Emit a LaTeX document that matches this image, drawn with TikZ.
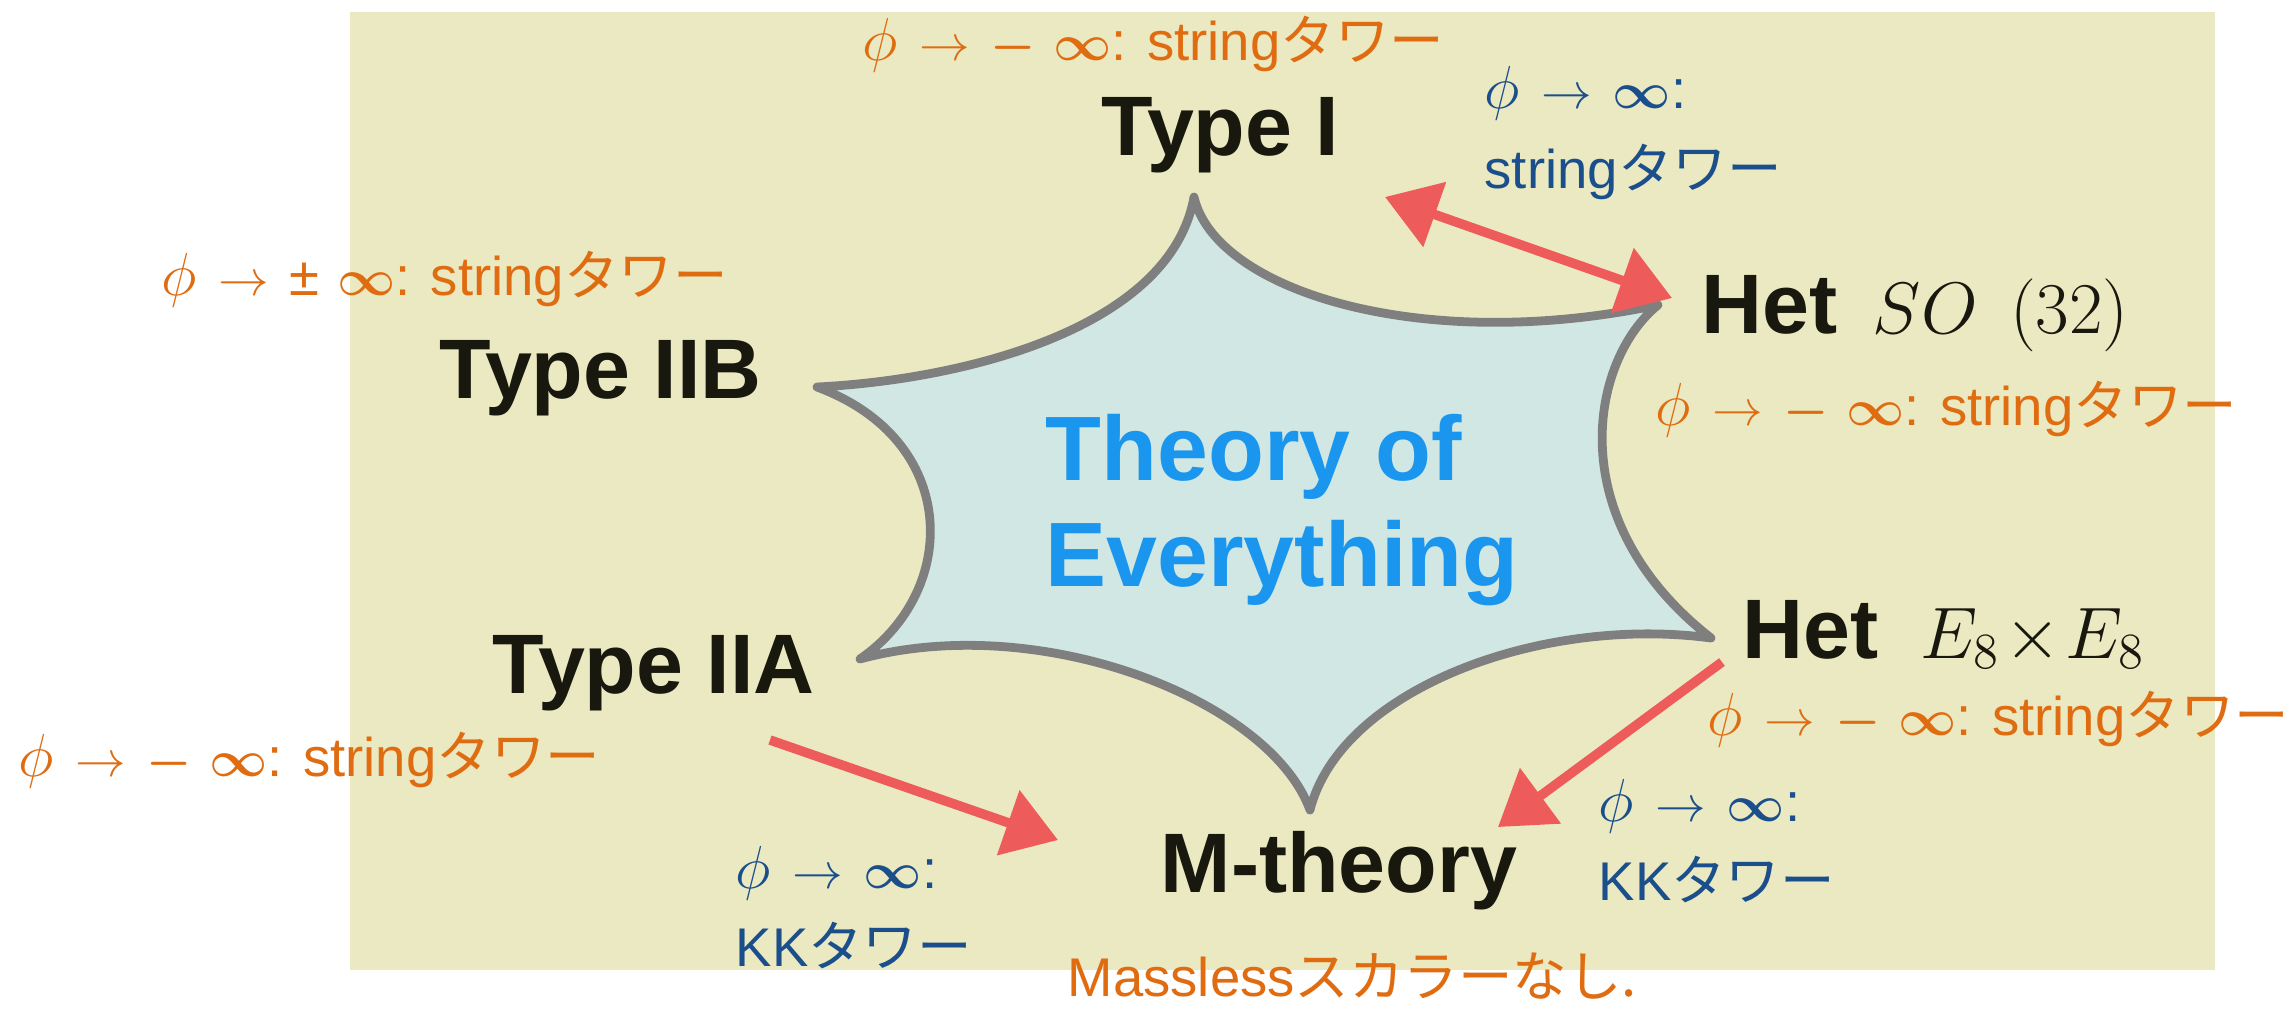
\documentclass[tikz,border=0pt]{standalone}
\usepackage[no-math]{fontspec}
\setmainfont{Liberation Sans}
\newfontfamily\jpfont{Noto Sans CJK JP}
\usepackage{tikz}
\usetikzlibrary{arrows.meta, calc}
\definecolor{stBg}{HTML}{EBE9C1}
\definecolor{stFill}{HTML}{D0E7E3}
\definecolor{stGray}{HTML}{7F7F7F}
\definecolor{stBlue}{HTML}{1A96EE}
\definecolor{stOrange}{HTML}{E06C12}
\definecolor{stNavy}{HTML}{1B4F8C}
\definecolor{stRed}{HTML}{EE5B5B}
\definecolor{stInk}{HTML}{18180F}
\newcommand{\tower}{{\jpfont タワー}}
\newcommand{\phito}[1]{{\fontsize{18.5}{20}\selectfont$\phi$}\hspace{6pt}$\to$\hspace{6pt}#1{\boldmath$\infty$}:}
\newcommand{\mns}{{\boldmath$-$}\hspace{5pt}}
\tikzset{
  theory/.style={font=\fontsize{24}{28}\selectfont\bfseries, text=stInk, inner sep=0pt, anchor=base west},
  limit/.style={font=\fontsize{15.5}{18}\selectfont, text=stOrange, inner sep=0pt, anchor=base west},
  limitblue/.style={limit, text=stNavy},
  toe/.style={font=\fontsize{26}{30}\selectfont\bfseries, text=stBlue, align=left, inner sep=0pt, anchor=north west},
  starline/.style={draw=stGray, line width=2.5pt, fill=stFill, line join=round},
  duality/.style={line width=2.7pt, stRed, -{Triangle[length=15pt, width=19pt]}}
}

\begin{document}
\begin{tikzpicture}[x=0.01cm, y=-0.01cm]
  \useasboundingbox (0,0) rectangle (2291,1008);
  \fill[stBg] (350,12) rectangle (2215,970);

  % star
  \draw[starline] (1194,197) .. controls (1215,290) and (1420,355) .. (1658,305)
    .. controls (1590,360) and (1560,520) .. (1711,638)
    .. controls (1540,615) and (1340,690) .. (1310,810)
    .. controls (1270,700) and (1040,610) .. (860,659)
    .. controls (960,590) and (960,440) .. (817,387)
    .. controls (960,380) and (1170,330) .. (1194,197) -- cycle;
  \node[toe] (toe) at (1045,414) {Theory of\\Everything};

  % theories
  \node[theory] (typeI) at (1101,155) {Type I};
  \node[theory] (typeIIB) at (439,398) {Type IIB};
  \node[theory] (typeIIA) at (492,693) {Type IIA};
  \node[theory] (hetSO) at (1701,333) {Het\hspace{10pt}{\fontsize{20}{24}\selectfont\mdseries$SO\mkern8mu\bigl(32\bigr)$}};
  \node[theory] (hetE) at (1742,658) {Het\hspace{12pt}{\fontsize{20}{24}\selectfont\mdseries$E_8\!\times\! E_8$}};
  \node[theory] (mth) at (1160,892) {M-theory};

  % limits
  \node[limit] (lI) at (862,60) {\phito{\mns} string\tower};
  \node[limitblue] (dI1) at (1484,108) {\phito{}};
  \node[limitblue] (dI2) at (1484,188) {string\tower};
  \node[limit] (lSO) at (1655,425) {\phito{\mns} string\tower};
  \node[limit] (lIIB) at (161,295) {\phito{±\hspace{5pt}} string\tower};
  \node[limit] (lIIA) at (18,776) {\phito{\mns} string\tower};
  \node[limitblue] (dA1) at (735,888) {\phito{}};
  \node[limitblue] (dA2) at (735,966) {KK\tower};
  \node[limit] (lE) at (1707,735) {\phito{\mns} string\tower};
  \node[limitblue] (dE1) at (1598,821) {\phito{}};
  \node[limitblue] (dE2) at (1598,900) {KK\tower};
  \node[limit] (note) at (1067,996) {Massless{\jpfont スカラーなし.}};

  % dualities
  \coordinate (aI) at (1385,197);
  \coordinate (aSO) at (1672,298);
  \coordinate (aA) at (770,740);
  \coordinate (aMA) at (1058,840);
  \coordinate (aE) at (1722,662);
  \coordinate (aME) at (1498,827);
  \draw[duality, {Triangle[length=15pt, width=19pt]}-{Triangle[length=15pt, width=19pt]}] (aI) -- (aSO);
  \draw[duality] (aA) -- (aMA);
  \draw[duality] (aE) -- (aME);
\end{tikzpicture}
\end{document}
